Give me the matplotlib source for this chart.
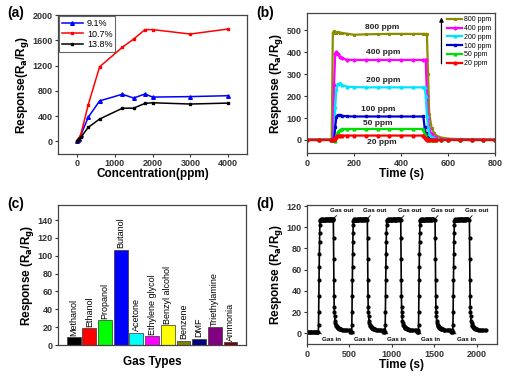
import matplotlib
matplotlib.use("Agg")
import matplotlib.pyplot as plt

plt.rcParams['font.family'] = ['Liberation Sans', 'DejaVu Sans']
plt.rcParams['font.weight'] = 'bold'
plt.rcParams['axes.labelweight'] = 'bold'
plt.rcParams['mathtext.default'] = 'bf'

# ---- (a) response vs concentration ----
conc = [10, 20, 50, 100, 300, 600, 1200, 1500, 1800, 2000, 3000, 4000]
resp_91 = [10, 20, 40, 95, 380, 640, 745, 685, 750, 700, 708, 722]
resp_107 = [10, 20, 45, 100, 580, 1180, 1490, 1620, 1770, 1770, 1700, 1780]
resp_138 = [5, 12, 30, 60, 220, 352, 523, 525, 600, 610, 590, 605]

# ---- (b) dynamic response at different concentrations ----
t_b = [0, 50, 100, 105, 110, 115, 120, 125, 130, 140, 150, 170, 200, 250, 300,
       350, 400, 450, 495, 500, 505, 510, 515, 520, 530, 540, 550, 570, 600,
       650, 700, 750, 800]
b_800 = [2, 2, 2, 2, 490, 495, 492, 490, 493, 490, 488, 485, 480, 482, 483,
         484, 484, 484, 484, 484, 484, 483, 300, 120, 55, 32, 20, 11, 6,
         4, 3, 2, 2]
b_400 = [0, 0, 0, 0, 0, 250, 390, 402, 392, 380, 372, 366, 365, 365, 365,
         365, 365, 365, 365, 365, 365, 200, 100, 50, 25, 14, 8, 4, 2,
         1, 1, 0, 0]
b_200 = [0, 0, 0, 0, 0, 0, 150, 232, 255, 258, 250, 243, 241, 240, 240,
         240, 240, 240, 240, 240, 200, 110, 55, 28, 14, 8, 4, 2, 1,
         0, 0, 0, 0]
b_100 = [0, 0, 0, 0, 0, 0, 60, 105, 112, 113, 110, 108, 107, 107, 107,
         107, 107, 107, 107, 60, 30, 15, 8, 4, 2, 1, 0, 0, 0,
         0, 0, 0, 0]
b_50 = [0, 0, 0, 0, 0, 0, -5, 15, 35, 45, 50, 50, 50, 50, 50,
        50, 50, 50, 50, 25, 12, 6, 3, 1, 0, 0, 0, 0, 0,
        0, 0, 0, 0]
b_20 = [0, 0, 0, 0, 0, 0, 5, 15, 20, 20, 20, 20, 20, 20, 20,
        20, 20, 20, 20, 8, 3, 1, 0, 0, 0, 0, 0, 0, 0,
        0, 0, 0, 0]
b_labels = ['800 ppm', '400 ppm', '200 ppm', '100 ppm', '50 ppm', '20 ppm']
b_text_x = [318, 324, 324, 302, 302, 318]
b_text_y = [515, 397, 270, 140, 73, -12]

# ---- (c) selectivity ----
gases = ['Methanol', 'Ethanol', 'Propanol', 'Butanol', 'Acetone', 'Ethylene glycol',
         'Benzyl alcohol', 'Benzene', 'DMF', 'Triethylamine', 'Ammonia']
gas_resp = [9, 19, 28, 107, 14, 10, 22, 5, 7, 20, 3]
gas_colors = ['#000000', '#ff0000', '#00ff00', '#0000ff', '#00ffff', '#ff00ff',
              '#ffff00', '#808000', '#000080', '#800080', '#800000']

# ---- (d) repeatability ----
gas_in = [134, 527, 921, 1314, 1720]
gas_out = [311, 712, 1106, 1511, 1916]
rise_dt = [-20, -10, 0, 2, 4, 6, 8, 10, 12, 14, 16, 18, 20]
rise_val = [1, 1, 1, 8, 20, 35, 50, 63, 75, 86, 95, 102, 106]
plat_dt = [25, 30, 35, 40, 45, 50, 55, 60, 65, 70, 75, 80, 85, 90, 95, 100,
           105, 110, 115, 120, 125, 130, 135, 140, 145, 150, 155, 160, 165, 170, 175]
plat_val = [107, 107.5, 107, 107, 107.5, 107, 107, 108, 107, 107, 107.5, 107, 107, 108, 107.5, 108,
            107, 107.5, 107, 107, 107.5, 108, 107, 107.5, 107, 108, 107.5, 107, 108, 107.5, 108]
fall_dt = [0, 2, 4, 6, 8, 10, 12, 15, 20, 25, 30, 35, 40, 45, 50, 55, 60, 65, 70, 75, 80,
           90, 100, 110, 120, 135, 150, 165, 180, 200]
fall_val = [107, 90, 70, 50, 35, 25, 20, 16, 12, 10, 8, 7.2, 6.5, 6, 5.5, 5.2, 5, 4.8, 4.5, 4.2, 4,
            3.8, 3.5, 3.4, 3.2, 3.1, 3, 3, 3, 3]
base0 = [1, 1, 1, 1, 1, 1, 1, 1, 1, 1, 1, 1]
base0_t = [0, 10, 20, 30, 40, 50, 60, 70, 80, 90, 100, 114]
gas_out_text_x = [410, 803, 1208, 1602, 2003]
gas_in_text_x = [291, 665, 1059, 1452, 1885]

fig = plt.figure(figsize=(5.07, 3.78), dpi=100)

def style(ax):
    ax.tick_params(labelsize=6.5, length=2.5, width=0.8, direction='out',
                   colors='#333333', pad=1.5)
    for s in ax.spines.values():
        s.set_linewidth(0.9)
        s.set_color('#444444')

# (a)
ax = fig.add_axes([0.1144, 0.593, 0.373, 0.367])
ax.plot(conc, resp_91, color='#0000ff', marker='^', ms=2.6, lw=1.1, label='9.1%')
ax.plot(conc, resp_107, color='#ff0000', marker='s', ms=2.0, lw=1.1, label='10.7%')
ax.plot(conc, resp_138, color='#000000', marker='s', ms=2.0, lw=1.1, label='13.8%')
ax.set_xlim(-500, 4500)
ax.set_ylim(-200, 2000)
ax.set_xticks([0, 1000, 2000, 3000, 4000])
ax.set_yticks([0, 400, 800, 1200, 1600, 2000])
ax.set_xlabel('Concentration(ppm)', fontsize=8.5, labelpad=0)
ax.set_ylabel('Response(R$_a$/R$_g$)', fontsize=8.5, labelpad=1)
leg = ax.legend(loc='upper left', fancybox=False,
                borderpad=0.3, labelspacing=0.2, handlelength=2.4, handletextpad=0.4,
                borderaxespad=0.1, prop={'weight': 'normal', 'size': 6.5})
leg.get_frame().set_edgecolor('#444444')
leg.get_frame().set_linewidth(0.8)
style(ax)
fig.text(0.015, 0.955, '(a)', fontsize=10, fontweight='bold')

# (b)
ax = fig.add_axes([0.6055, 0.595, 0.371, 0.371])
b_series = [b_800, b_400, b_200, b_100, b_50, b_20]
b_colors = ['#8c8c00', '#ff00ff', '#00e5ff', '#0000cc', '#00dd00', '#ff0000']
b_markers = ['*', 'P', '^', 's', '^', 'o']
for vals, c, m, lab in zip(b_series, b_colors, b_markers, b_labels):
    ax.plot(t_b, vals, color=c, marker=m, ms=2, lw=1.6, label=lab)
for lab, x, y in zip(b_labels, b_text_x, b_text_y):
    ax.text(x, y, lab, fontsize=6, ha='center', va='center', color='#222222')
ax.set_xlim(0, 800)
ax.set_ylim(-60, 580)
ax.set_xticks([0, 200, 400, 600, 800])
ax.set_yticks([0, 100, 200, 300, 400, 500])
ax.set_xlabel('Time (s)', fontsize=8.5, labelpad=0)
ax.set_ylabel('Response (R$_a$/R$_g$)', fontsize=8.5, labelpad=1)
ax.legend(loc='upper right', frameon=False, handlelength=2.2, handletextpad=0.3,
          labelspacing=0.25, borderaxespad=0.1, prop={'weight': 'normal', 'size': 5})
ax.annotate('', xy=(572, 572), xytext=(572, 335),
            arrowprops=dict(arrowstyle='-|>', color='black', lw=0.9, mutation_scale=6))
style(ax)
fig.text(0.505, 0.955, '(b)', fontsize=10, fontweight='bold')

# (c)
ax = fig.add_axes([0.1144, 0.0873, 0.371, 0.3704])
pos = list(range(1, len(gases) + 1))
ax.bar(pos, gas_resp, width=0.88, color=gas_colors, edgecolor='#333333', linewidth=0.5)
for x, v, name in zip(pos, gas_resp, gases):
    ax.text(x, v + 1.5, name, rotation=90, ha='center', va='bottom', fontsize=6.5,
            fontweight='normal')
ax.set_xlim(0, 12)
ax.set_ylim(0, 157)
ax.set_xticks([])
ax.set_yticks([0, 20, 40, 60, 80, 100, 120, 140])
ax.set_xlabel('Gas Types', fontsize=8.5, labelpad=8)
ax.set_ylabel('Response (R$_a$/R$_g$)', fontsize=8.5, labelpad=1)
style(ax)
fig.text(0.015, 0.45, '(c)', fontsize=10, fontweight='bold')

# (d)
ax = fig.add_axes([0.6055, 0.09, 0.3745, 0.3677])
ax.plot(base0_t, base0, color='black', marker='o', ms=2.0, lw=1.2)
for i, (ti, to) in enumerate(zip(gas_in, gas_out)):
    tt = [ti + d for d in rise_dt if ti + d >= base0_t[-1] or i > 0]
    vv = [v for d, v in zip(rise_dt, rise_val) if ti + d >= base0_t[-1] or i > 0]
    tt += [ti + d for d in plat_dt]
    vv += plat_val
    tt += [to + d for d in fall_dt]
    vv += fall_val
    ax.plot(tt, vv, color='black', marker='o', ms=2.0, lw=1.2)
for i in range(len(gas_in)):
    ax.annotate('Gas out', xy=(gas_out[i], 108), xytext=(gas_out_text_x[i], 116),
                fontsize=4.5, ha='center', va='center',
                arrowprops=dict(arrowstyle='-', color='black', lw=0.6,
                                shrinkA=6, shrinkB=0))
    ax.annotate('Gas in', xy=(gas_in[i], 1), xytext=(gas_in_text_x[i], -5.5),
                fontsize=4.5, ha='center', va='center',
                arrowprops=dict(arrowstyle='-', color='black', lw=0.6,
                                shrinkA=6, shrinkB=0))
ax.set_xlim(0, 2240)
ax.set_ylim(-10, 121)
ax.set_xticks([0, 500, 1000, 1500, 2000])
ax.set_yticks([0, 20, 40, 60, 80, 100, 120])
ax.set_xlabel('Time (s)', fontsize=8.5, labelpad=0)
ax.set_ylabel('Response (R$_a$/R$_g$)', fontsize=8.5, labelpad=1)
style(ax)
fig.text(0.505, 0.45, '(d)', fontsize=10, fontweight='bold')

fig.savefig('out.png', dpi=100)
